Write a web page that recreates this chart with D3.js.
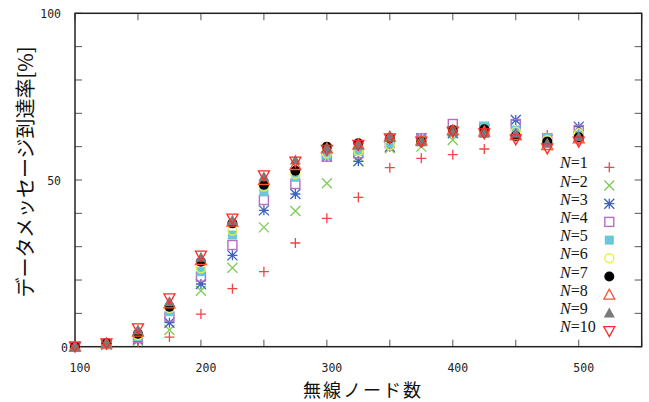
<!DOCTYPE html>
<html>
<head>
<meta charset="utf-8">
<script src="https://cdn.jsdelivr.net/npm/d3@7"></script>
<style>
  html, body { margin: 0; padding: 0; background: #fff; }
  svg { display: block; }
</style>
</head>
<body>
<svg id="chart" width="649" height="402"></svg>
<script>
// Number of wireless nodes on the x axis
const nodeCounts = [100, 125, 150, 175, 200, 225, 250, 275, 300, 325, 350, 375, 400, 425, 450, 475, 500];

// Message delivery ratio [%] for each N
const rateN1  = [0, 0.5, 1.5, 2.9, 9.8, 17.4, 22.5, 31.1, 38.5, 44.8, 53.7, 56.5, 57.6, 59.3, 63.0, 63.5, 62.0];
const rateN2  = [0, 0.6, 1.8, 5.0, 16.8, 23.7, 35.8, 40.7, 49.0, 57.0, 59.5, 60.0, 62.0, 66.0, 63.5, 62.5, 63.0];
const rateN3  = [0, 0.7, 2.2, 7.2, 18.8, 27.4, 40.9, 45.8, 57.0, 55.6, 60.0, 62.5, 64.0, 65.0, 68.0, 62.0, 66.0];
const rateN4  = [0, 0.8, 2.6, 9.0, 21.0, 30.5, 44.0, 48.8, 57.0, 58.0, 61.0, 62.5, 66.8, 65.5, 66.8, 62.5, 65.0];
const rateN5  = [0, 0.9, 3.0, 10.5, 22.5, 33.5, 46.5, 50.8, 57.5, 58.5, 61.0, 62.0, 65.0, 66.2, 65.0, 62.7, 63.5];
const rateN6  = [0, 0.9, 3.5, 11.6, 23.5, 34.8, 48.0, 51.8, 58.0, 58.7, 60.5, 61.5, 64.5, 65.0, 64.5, 62.0, 64.0];
const rateN7  = [0, 1.0, 3.9, 12.0, 25.5, 37.0, 48.6, 52.8, 60.0, 61.0, 62.5, 61.5, 65.0, 65.2, 63.2, 61.5, 62.8];
const rateN8  = [0, 1.0, 4.5, 13.0, 26.0, 37.5, 50.0, 54.5, 59.5, 60.7, 63.0, 61.8, 65.0, 64.5, 63.5, 60.5, 62.5];
const rateN9  = [0, 1.0, 5.0, 13.5, 26.8, 37.8, 51.0, 56.0, 59.5, 60.5, 63.0, 61.5, 64.5, 64.0, 64.0, 61.0, 63.0];
const rateN10 = [0, 1.0, 5.5, 14.5, 27.3, 38.4, 51.4, 55.5, 59.0, 60.5, 62.5, 61.5, 64.5, 64.0, 62.2, 59.5, 61.5];

const seriesNames = ["1", "2", "3", "4", "5", "6", "7", "8", "9", "10"];
const seriesValues = [rateN1, rateN2, rateN3, rateN4, rateN5, rateN6, rateN7, rateN8, rateN9, rateN10];

// Tick labels
const xTickLabels = [100, 200, 300, 400, 500];
const yTickLabels = [0, 50, 100];

// Marker style per series
const styles = [
  { shape: "plus",   color: "#f04545" },
  { shape: "cross",  color: "#7fcc55" },
  { shape: "star",   color: "#3d63c0" },
  { shape: "square", color: "#b36fc2", fill: false },
  { shape: "square", color: "#66c8d8", fill: true },
  { shape: "circle", color: "#eeee44", fill: false },
  { shape: "circle", color: "#000000", fill: true },
  { shape: "tri",    color: "#ff5533", fill: false },
  { shape: "tri",    color: "#7a7a7a", fill: true },
  { shape: "itri",   color: "#ff2a2a", fill: false }
];

const svg = d3.select("#chart");
const plotLeft = 75, plotRight = 641.7, plotTop = 13.3, plotBottom = 346.7;

const x = d3.scaleLinear().domain([100, 550]).range([plotLeft, plotRight]);
const y = d3.scaleLinear().domain([0, 100]).range([plotBottom, plotTop]);

const tickFont = "'DejaVu Sans Mono', monospace";

// Tick marks on all four sides, pointing inward
const xt = d3.range(100, 551, 50);
const yt = d3.range(0, 101, 10);
const tickG = svg.append("g").attr("stroke", "#555").attr("stroke-width", 1);
xt.forEach(v => {
  tickG.append("line").attr("x1", x(v)).attr("x2", x(v)).attr("y1", plotBottom).attr("y2", plotBottom - 7);
  tickG.append("line").attr("x1", x(v)).attr("x2", x(v)).attr("y1", plotTop).attr("y2", plotTop + 7);
});
yt.forEach(v => {
  tickG.append("line").attr("x1", plotLeft).attr("x2", plotLeft + 7).attr("y1", y(v)).attr("y2", y(v));
  tickG.append("line").attr("x1", plotRight).attr("x2", plotRight - 7).attr("y1", y(v)).attr("y2", y(v));
});

// Plot frame
svg.append("rect")
  .attr("x", plotLeft).attr("y", plotTop)
  .attr("width", plotRight - plotLeft).attr("height", plotBottom - plotTop)
  .attr("fill", "none").attr("stroke", "#222").attr("stroke-width", 1.5);

// Tick labels
svg.append("g").selectAll("text").data(xTickLabels).join("text")
  .attr("x", d => x(d) + 5)
  .attr("y", 367.5)
  .attr("text-anchor", "middle")
  .attr("dominant-baseline", "central")
  .attr("font-family", tickFont).attr("font-size", 11.5).attr("fill", "#222")
  .text(d => d);

svg.append("g").selectAll("text").data(yTickLabels).join("text")
  .attr("x", d => d === 0 ? 68 : 61)
  .attr("y", d => y(d) + 1)
  .attr("text-anchor", "end")
  .attr("dominant-baseline", "central")
  .attr("font-family", tickFont).attr("font-size", 11.5).attr("fill", "#222")
  .text(d => d);

// Axis titles
const jpFont = "'Noto Sans CJK JP', 'Noto Sans', sans-serif";
svg.append("text")
  .attr("x", 363).attr("y", 389)
  .attr("text-anchor", "middle").attr("dominant-baseline", "central")
  .attr("font-family", jpFont).attr("font-size", 18).attr("letter-spacing", 2)
  .attr("fill", "#111")
  .text("無線ノード数");

svg.append("text")
  .attr("transform", "translate(24,172) rotate(-90)")
  .attr("text-anchor", "middle").attr("dominant-baseline", "central")
  .attr("font-family", jpFont).attr("font-size", 20).attr("fill", "#111")
  .text("データメッセージ到達率[%]");

// Marker drawing
function drawMarker(g, st, cx, cy) {
  const h = 5;
  switch (st.shape) {
    case "plus":
      g.append("path").attr("d", `M${cx - h},${cy}H${cx + h}M${cx},${cy - h}V${cy + h}`)
        .attr("stroke", st.color).attr("stroke-width", 1.3).attr("fill", "none");
      break;
    case "cross":
      g.append("path").attr("d", `M${cx - h},${cy - h}L${cx + h},${cy + h}M${cx - h},${cy + h}L${cx + h},${cy - h}`)
        .attr("stroke", st.color).attr("stroke-width", 1.3).attr("fill", "none");
      break;
    case "star":
      g.append("path").attr("d",
        `M${cx - h},${cy}H${cx + h}M${cx},${cy - h}V${cy + h}` +
        `M${cx - h},${cy - h}L${cx + h},${cy + h}M${cx - h},${cy + h}L${cx + h},${cy - h}`)
        .attr("stroke", st.color).attr("stroke-width", 1.3).attr("fill", "none");
      break;
    case "square":
      g.append("rect").attr("x", cx - 4.5).attr("y", cy - 4.5).attr("width", 9).attr("height", 9)
        .attr("fill", st.fill ? st.color : "none")
        .attr("stroke", st.color).attr("stroke-width", st.fill ? 0 : 1.4);
      break;
    case "circle":
      g.append("circle").attr("cx", cx).attr("cy", cy).attr("r", st.fill ? 5 : 4.5)
        .attr("fill", st.fill ? st.color : "none")
        .attr("stroke", st.color).attr("stroke-width", st.fill ? 0 : 1.4);
      break;
    case "tri":
      g.append("path").attr("d", `M${cx},${cy - 5.5}L${cx + 5.5},${cy + 4.5}L${cx - 5.5},${cy + 4.5}Z`)
        .attr("fill", st.fill ? st.color : "none")
        .attr("stroke", st.color).attr("stroke-width", st.fill ? 0 : 1.3);
      break;
    case "itri":
      g.append("path").attr("d", `M${cx},${cy + 5.5}L${cx + 5.5},${cy - 4.5}L${cx - 5.5},${cy - 4.5}Z`)
        .attr("fill", st.fill ? st.color : "none")
        .attr("stroke", st.color).attr("stroke-width", st.fill ? 0 : 1.3);
      break;
  }
}

// Data points: N=1 drawn first, N=10 last
const pts = svg.append("g");
seriesValues.forEach((vals, i) => {
  const g = pts.append("g");
  vals.forEach((v, j) => drawMarker(g, styles[i], x(nodeCounts[j]), y(v)));
});

// Legend
const legend = svg.append("g");
seriesNames.forEach((name, i) => {
  const sy = 167.3 + i * 18.2;
  const t = legend.append("text")
    .attr("x", 560).attr("y", sy + 1)
    .attr("font-family", "'Liberation Serif', 'Times New Roman', serif")
    .attr("font-size", 16).attr("fill", "#111");
  t.append("tspan").attr("font-style", "italic").text("N");
  t.append("tspan").text("=" + name);
  drawMarker(legend.append("g"), styles[i], 609.3, sy);
});
</script>
</body>
</html>
